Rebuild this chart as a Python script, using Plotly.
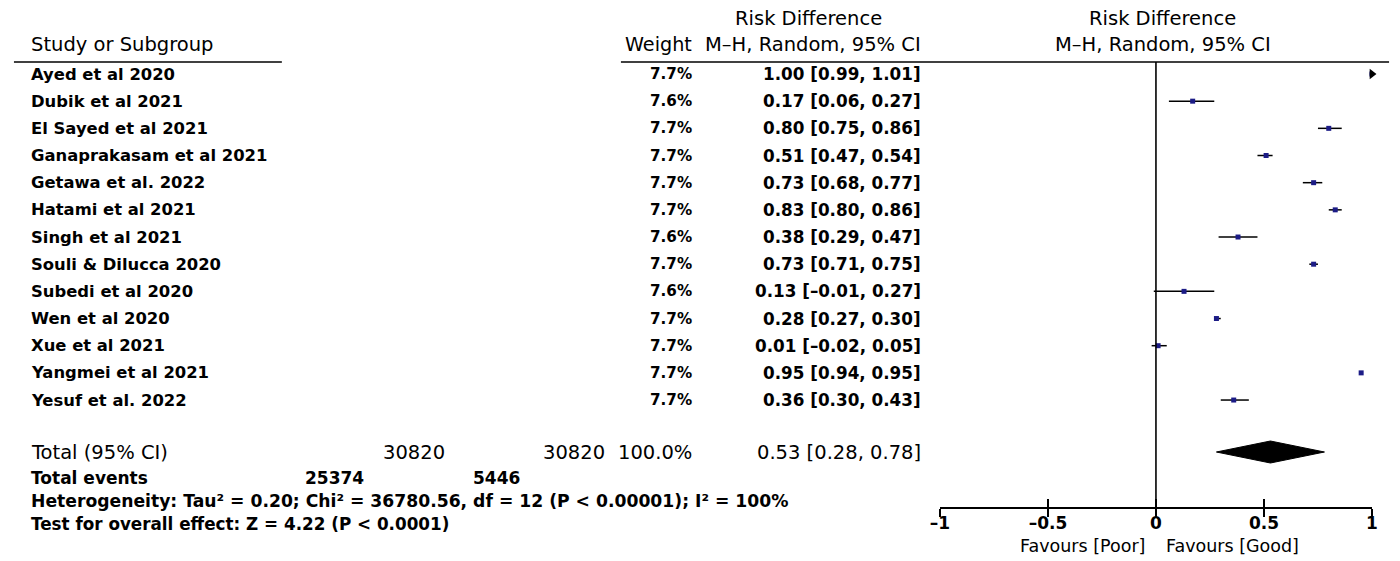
import plotly.graph_objects as go

# ---------------- data ----------------
studies = ["Ayed et al 2020", "Dubik et al 2021", "El Sayed et al 2021",
           "Ganaprakasam et al 2021", "Getawa et al. 2022", "Hatami et al 2021",
           "Singh et al 2021", "Souli & Dilucca 2020", "Subedi et al 2020",
           "Wen et al 2020", "Xue et al 2021", "Yangmei et al 2021", "Yesuf et al. 2022"]
weights = [7.7, 7.6, 7.7, 7.7, 7.7, 7.7, 7.6, 7.7, 7.6, 7.7, 7.7, 7.7, 7.7]
rd = [1.00, 0.17, 0.80, 0.51, 0.73, 0.83, 0.38, 0.73, 0.13, 0.28, 0.01, 0.95, 0.36]
ci_lo = [0.99, 0.06, 0.75, 0.47, 0.68, 0.80, 0.29, 0.71, -0.01, 0.27, -0.02, 0.94, 0.30]
ci_hi = [1.01, 0.27, 0.86, 0.54, 0.77, 0.86, 0.47, 0.75, 0.27, 0.30, 0.05, 0.95, 0.43]

total_n = [30820, 30820]
total_events = [25374, 5446]
total_weight = 100.0
pooled = 0.53
pooled_lo = 0.28
pooled_hi = 0.78

tick_vals = [-1, -0.5, 0, 0.5, 1]
tick_text = ["–1", "–0.5", "0", "0.5", "1"]

heterogeneity = ("Heterogeneity: Tau² = 0.20; Chi² = 36780.56, df = 12 "
                 "(P &lt; 0.00001); I² = 100%")
overall = "Test for overall effect: Z = 4.22 (P &lt; 0.0001)"

# ---------------- layout helpers ----------------
W, H = 1400, 561
ROW0, ROWSTEP = 74.0, 27.17          # pixel y of first row, row spacing


def row_of(py):
    return (py - ROW0) / ROWSTEP


def px(x):
    return x / W


def py(y):
    return 1 - y / H


FONT = "DejaVu Sans"
BOLD = "DejaVu Sans, Verdana, sans-serif"


def fmt(v):
    s = f"{abs(v):.2f}"
    return ("–" + s) if v < 0 else s


n = len(studies)
rows = list(range(n))
total_row = row_of(452)
axis_row = row_of(507)

fig = go.Figure()

# CI lines + point estimates
fig.add_trace(go.Scatter(
    x=rd, y=rows, mode="markers",
    marker=dict(symbol="square", size=5, color="#1c1c86"),
    error_x=dict(type="data", symmetric=False,
                 array=[h - r for h, r in zip(ci_hi, rd)],
                 arrayminus=[r - l for r, l in zip(rd, ci_lo)],
                 width=0, thickness=1.5, color="black"),
    showlegend=False, hoverinfo="skip"))

# arrows for CIs running past the axis limit
arr_x = [min(h, 1.0) for h in ci_hi if h > 1.0]
arr_y = [i for i, h in enumerate(ci_hi) if h > 1.0]
fig.add_trace(go.Scatter(
    x=arr_x, y=arr_y, mode="markers", cliponaxis=False,
    marker=dict(symbol="triangle-right", size=9, color="black"),
    showlegend=False, hoverinfo="skip"))

# pooled diamond
dh = 11 / ROWSTEP
fig.add_trace(go.Scatter(
    x=[pooled_lo, pooled, pooled_hi, pooled, pooled_lo],
    y=[total_row, total_row - dh, total_row, total_row + dh, total_row],
    mode="lines", fill="toself", fillcolor="black",
    line=dict(color="black", width=1), showlegend=False, hoverinfo="skip"))

ann = []


def text(x, y, s, anchor="left", size=16.5, bold=True, yref="paper"):
    ann.append(dict(x=x, y=y, xref="paper", yref=yref, text=s, showarrow=False,
                    xanchor=anchor, yanchor="middle",
                    font=dict(family=BOLD if bold else FONT, size=size,
                              color="black")))


def b(s):
    return f"<b>{s}</b>"


HDR = 19.5
# headers
text(px(19), py(45), "Study or Subgroup", size=HDR, bold=False)
text(px(692), py(45), "Weight", anchor="right", size=19.2, bold=False)
text(px(808), py(18), "Risk Difference", anchor="center", size=HDR, bold=False)
text(px(924), py(45), "M–H, Random, 95% CI", anchor="right", size=HDR, bold=False)
text(px(1166), py(18), "Risk Difference", anchor="center", size=HDR, bold=False)
text(px(1166), py(45), "M–H, Random, 95% CI", anchor="center", size=HDR, bold=False)

# study rows
for i in rows:
    text(px(19), i, b(studies[i]), size=16.4, yref="y")
    text(px(692), i, b(f"{weights[i]:.1f}%"), anchor="right", size=15.2, yref="y")
    text(px(924), i, b(f"{fmt(rd[i])} [{fmt(ci_lo[i])}, {fmt(ci_hi[i])}]"),
         anchor="right", size=16.8, yref="y")

# totals
text(px(19), py(452), "Total (95% CI)", size=19.5, bold=False)
text(px(442), py(452), f"{total_n[0]}", anchor="right", size=19.5, bold=False)
text(px(604), py(452), f"{total_n[1]}", anchor="right", size=19.5, bold=False)
text(px(692), py(452), f"{total_weight:.1f}%", anchor="right", size=19.5, bold=False)
text(px(924), py(452), f"{pooled:.2f} [{pooled_lo:.2f}, {pooled_hi:.2f}]",
     anchor="right", size=19.5, bold=False)
text(px(19), py(478), b("Total events"), size=17)
text(px(360), py(478), b(f"{total_events[0]}"), anchor="right", size=17)
text(px(518), py(478), b(f"{total_events[1]}"), anchor="right", size=17)
text(px(19), py(501), b(heterogeneity), size=17.2)
text(px(19), py(524), b(overall), size=16.8)

# favours labels
text(px(1150), py(546), "Favours [Poor]", anchor="right", size=17.5, bold=False)
text(px(1167), py(546), "Favours [Good]", anchor="left", size=17.5, bold=False)

shapes = [
    dict(type="line", xref="paper", yref="paper", x0=px(4), x1=px(275),
         y0=py(62), y1=py(62), line=dict(color="black", width=1.6)),
    dict(type="line", xref="paper", yref="paper", x0=px(618), x1=px(1395),
         y0=py(62), y1=py(62), line=dict(color="black", width=1.6)),
    dict(type="line", xref="x", yref="y", x0=0, x1=0,
         y0=row_of(62), y1=axis_row, line=dict(color="black", width=1.6)),
]

fig.update_layout(
    width=W, height=H, margin=dict(l=0, r=0, t=0, b=0),
    paper_bgcolor="white", plot_bgcolor="white",
    annotations=ann, shapes=shapes,
    xaxis=dict(domain=[940.7 / W, 1377.7 / W], range=[-1, 1],
               showgrid=False, zeroline=False, showline=True,
               linecolor="black", linewidth=1.6,
               ticks="outside", ticklen=8, tickwidth=1.6, tickcolor="black",
               ticklabelstandoff=-8,
               tickvals=tick_vals, ticktext=[b(t) for t in tick_text],
               tickfont=dict(family=BOLD, size=17, color="black"),
               anchor="y", fixedrange=True),
    xaxis2=dict(domain=[940.7 / W, 1377.7 / W], range=[-1, 1], overlaying="x",
                anchor="y", showgrid=False, zeroline=False, showline=False,
                ticks="inside", ticklen=8, tickwidth=1.6, tickcolor="black",
                tickvals=tick_vals, showticklabels=False, side="bottom"),
    yaxis=dict(domain=[1 - 507 / H, 1], range=[axis_row, row_of(0)],
               visible=False, fixedrange=True),
)
# invisible trace to activate xaxis2
fig.add_trace(go.Scatter(x=[0], y=[0], xaxis="x2", mode="markers",
                         marker=dict(opacity=0), showlegend=False,
                         hoverinfo="skip"))

fig.write_html("out.html", config={"displayModeBar": False})

# remove the default page margin so the figure sits at the window's origin
with open("out.html", "r", encoding="utf-8") as f:
    html = f.read()
html = html.replace("<body>", '<body style="margin:0;padding:0;overflow:hidden">', 1)
with open("out.html", "w", encoding="utf-8") as f:
    f.write(html)
